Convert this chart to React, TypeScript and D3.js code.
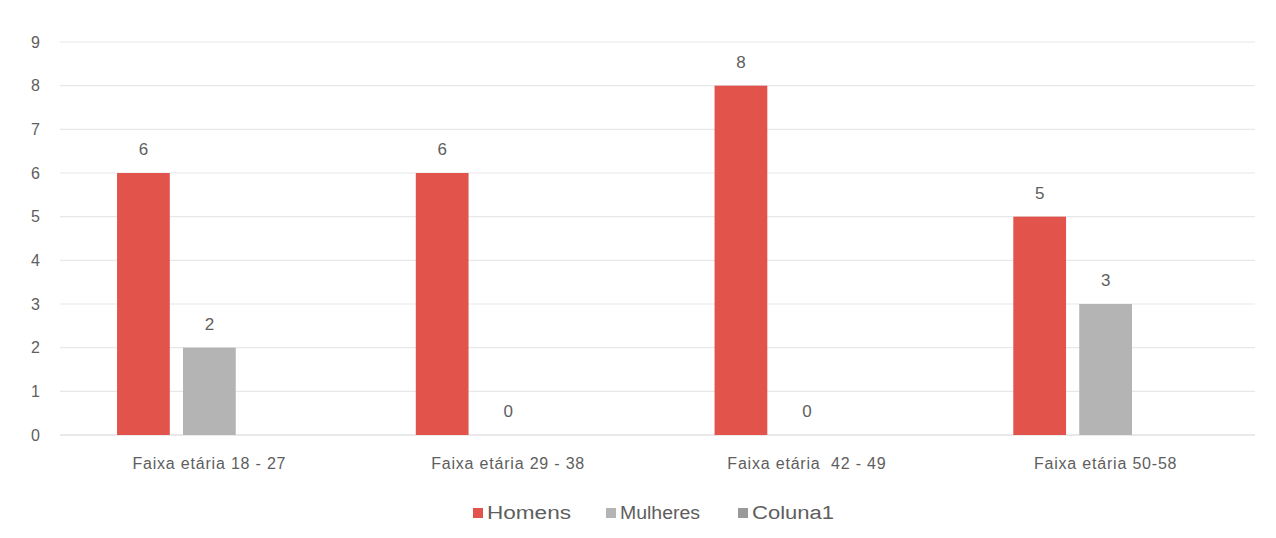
import React from "react";
import * as d3 from "d3";

const categories = ["Faixa etária 18 - 27", "Faixa etária 29 - 38", "Faixa etária  42 - 49", "Faixa etária 50-58"];
const seriesNames = ["Homens", "Mulheres", "Coluna1"];
const homens = [6, 6, 8, 5];
const mulheres = [2, 0, 0, 3];
const coluna1: (number | null)[] = [null, null, null, null];
const yTicks = [0, 1, 2, 3, 4, 5, 6, 7, 8, 9];
const colors = ["#e2534b", "#b4b4b4", "#9a9a9a"];

export default function App() {
  const W = 1276, H = 538;
  const left = 60, right = 1255, top = 42, bottom = 435;
  const x0 = d3.scaleBand<string>().domain(categories).range([left, right]).paddingInner(0).paddingOuter(0);
  const x1 = d3.scaleBand<string>().domain(seriesNames).range([0, x0.bandwidth()]).paddingInner(0.2).paddingOuter(0.865);
  const y = d3.scaleLinear().domain([0, 9]).range([bottom, top]);
  const series = [homens, mulheres, coluna1];
  const font = "'Liberation Sans', Arial, sans-serif";
  const textColor = "#5e5e5e";
  const legendX = [473, 606, 738];
  const legendW = [84, 80, 82];
  return (
    <svg width={W} height={H} style={{ position: "absolute", left: 0, top: 0, background: "#fff" }} fontFamily={font}>
      {yTicks.map((t) => (
        <g key={t}>
          <line x1={left} x2={right} y1={y(t)} y2={y(t)} stroke={t === 0 ? "#d4d4d4" : "#e8e8e8"} strokeWidth={1.2} />
          <text x={40} y={y(t)} dy="0.35em" textAnchor="end" fontSize={16} fill={textColor}>{t}</text>
        </g>
      ))}
      {categories.map((c, i) => (
        <g key={c} transform={`translate(${x0(c)},0)`}>
          {seriesNames.map((s, j) => {
            const v = series[j][i];
            if (v === null || v === undefined) return null;
            const bx = x1(s)!;
            return (
              <g key={s}>
                <rect x={bx} y={y(v)} width={x1.bandwidth()} height={y(0) - y(v)} fill={colors[j]} />
                <text x={bx + x1.bandwidth() / 2} y={y(v) - 18} textAnchor="middle" fontSize={17} fill={textColor}>{v}</text>
              </g>
            );
          })}
          <text x={x0.bandwidth() / 2} y={469} textAnchor="middle" fontSize={16} letterSpacing={0.8} fill={textColor} style={{ whiteSpace: "pre" }}>{c}</text>
        </g>
      ))}
      {seriesNames.map((s, j) => (
        <g key={s} transform={`translate(${legendX[j]},513)`}>
          <rect x={0} y={-5} width={10} height={10} fill={colors[j]} />
          <text x={14} y={0} dy="0.35em" fontSize={18} textLength={legendW[j]} lengthAdjust="spacingAndGlyphs" fill={textColor}>{s}</text>
        </g>
      ))}
    </svg>
  );
}
